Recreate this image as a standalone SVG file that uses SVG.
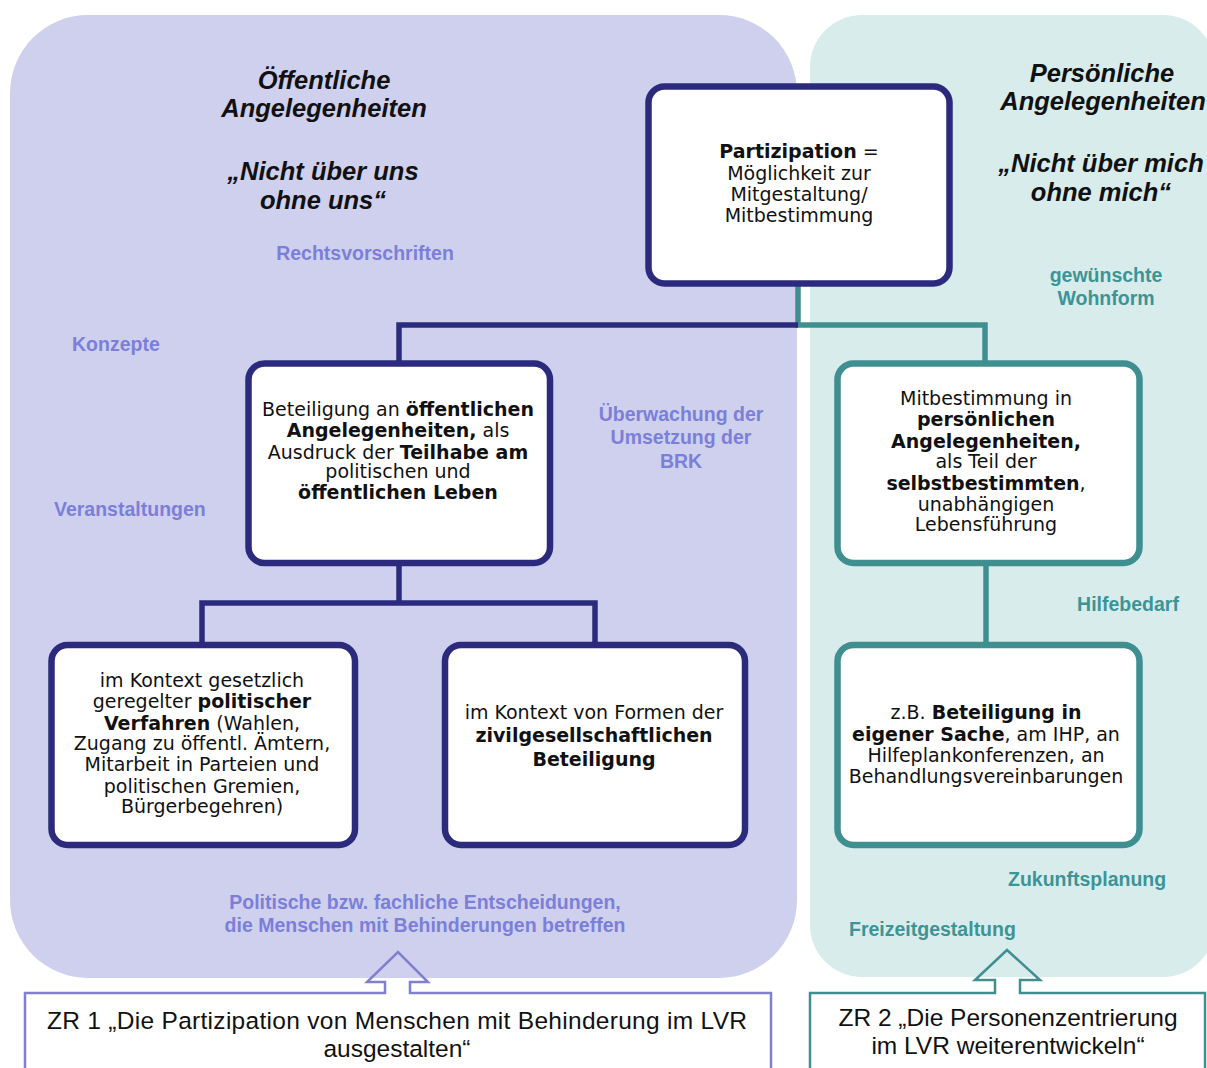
<svg xmlns="http://www.w3.org/2000/svg" width="1207" height="1068" viewBox="0 0 1207 1068">
<style>
.box{fill:#ffffff;stroke-width:6.5}
.navy{stroke:#2b2a7c}
.teal{stroke:#3f8f91}
.t{font-family:"DejaVu Sans",Verdana,sans-serif;font-size:19px;fill:#111;text-anchor:middle}
.b{font-weight:bold}
.hd{font-family:"Liberation Sans",Arial,sans-serif;font-size:25.5px;font-weight:bold;font-style:italic;fill:#111;text-anchor:middle}
.lp{font-family:"Liberation Sans",Arial,sans-serif;font-size:19.5px;font-weight:bold;fill:#7b7fd9}
.lt{font-family:"Liberation Sans",Arial,sans-serif;font-size:19.5px;font-weight:bold;fill:#3d9496}
.zr{font-family:"Liberation Sans",Arial,sans-serif;font-size:24.5px;fill:#111;text-anchor:middle}
.conn{fill:none;stroke-width:5.5;stroke-linejoin:miter}
</style>
<rect width="1207" height="1068" fill="#ffffff"/>
<g id="panel-public">
<rect x="10" y="15" width="787" height="963" rx="78" fill="#cfd0ee"/>
<text class="hd" x="324" y="89">Öffentliche</text>
<text class="hd" x="324" y="117">Angelegenheiten</text>
<text class="hd" x="323" y="180">„Nicht über uns</text>
<text class="hd" x="323" y="209">ohne uns“</text>
<text class="lp" x="365" y="260" text-anchor="middle">Rechtsvorschriften</text>
<text class="lp" x="72" y="351">Konzepte</text>
<text class="lp" x="681" y="421" text-anchor="middle">Überwachung der</text>
<text class="lp" x="681" y="444" text-anchor="middle">Umsetzung der</text>
<text class="lp" x="681" y="468" text-anchor="middle">BRK</text>
<text class="lp" x="54" y="516">Veranstaltungen</text>
<text class="lp" x="425" y="909" text-anchor="middle">Politische bzw. fachliche Entscheidungen,</text>
<text class="lp" x="425" y="932" text-anchor="middle">die Menschen mit Behinderungen betreffen</text>
</g>
<g id="panel-personal">
<rect x="810" y="15" width="405" height="962" rx="52" fill="#d8ecec"/>
<text class="hd" x="1102" y="82">Persönliche</text>
<text class="hd" x="1103" y="110">Angelegenheiten</text>
<text class="hd" x="1101" y="172">„Nicht über mich</text>
<text class="hd" x="1101" y="201">ohne mich“</text>
<text class="lt" x="1106" y="282" text-anchor="middle">gewünschte</text>
<text class="lt" x="1106" y="305" text-anchor="middle">Wohnform</text>
<text class="lt" x="1128" y="611" text-anchor="middle">Hilfebedarf</text>
<text class="lt" x="1008" y="886">Zukunftsplanung</text>
<text class="lt" x="849" y="936">Freizeitgestaltung</text>
</g>
<g id="connectors">
<path class="conn teal" d="M798 285 V325 H985 V365"/>
<path class="conn navy" d="M798 325 H399 V365"/>
<path class="conn navy" d="M399 562 V603 H202 V646 M399 603 H595 V646"/>
<path class="conn teal" d="M986 562 V646"/>
</g>
<g id="node-partizipation">
<rect class="box navy" x="648.5" y="86.5" width="301" height="197" rx="16"/>
<text class="t" x="799" y="158"><tspan class="b">Partizipation</tspan> =</text>
<text class="t" x="799" y="180">Möglichkeit zur</text>
<text class="t" x="799" y="201">Mitgestaltung/</text>
<text class="t" x="799" y="222">Mitbestimmung</text>
</g>
<g id="node-oeffentlich">
<rect class="box navy" x="248.5" y="363.5" width="301.5" height="199.5" rx="16"/>
<text class="t" x="398" y="416">Beteiligung an <tspan class="b">öffentlichen</tspan></text>
<text class="t" x="398" y="437"><tspan class="b">Angelegenheiten,</tspan> als</text>
<text class="t" x="398" y="459">Ausdruck der <tspan class="b">Teilhabe am</tspan></text>
<text class="t" x="398" y="478">politischen und</text>
<text class="t" x="398" y="499"><tspan class="b">öffentlichen Leben</tspan></text>
</g>
<g id="node-persoenlich">
<rect class="box teal" x="837.5" y="363.5" width="302" height="199.5" rx="16"/>
<text class="t" x="986" y="405">Mitbestimmung in</text>
<text class="t" x="986" y="426"><tspan class="b">persönlichen</tspan></text>
<text class="t" x="986" y="448"><tspan class="b">Angelegenheiten,</tspan></text>
<text class="t" x="986" y="468">als Teil der</text>
<text class="t" x="986" y="490"><tspan class="b">selbstbestimmten</tspan>,</text>
<text class="t" x="986" y="511">unabhängigen</text>
<text class="t" x="986" y="531">Lebensführung</text>
</g>
<g id="node-politisch">
<rect class="box navy" x="51.5" y="645" width="303.5" height="200" rx="16"/>
<text class="t" x="202" y="687">im Kontext gesetzlich</text>
<text class="t" x="202" y="708">geregelter <tspan class="b">politischer</tspan></text>
<text class="t" x="202" y="730"><tspan class="b">Verfahren</tspan> (Wahlen,</text>
<text class="t" x="202" y="750">Zugang zu öffentl. Ämtern,</text>
<text class="t" x="202" y="771">Mitarbeit in Parteien und</text>
<text class="t" x="202" y="793">politischen Gremien,</text>
<text class="t" x="202" y="813">Bürgerbegehren)</text>
</g>
<g id="node-zivil">
<rect class="box navy" x="445" y="645" width="300" height="200" rx="16"/>
<text class="t" x="594" y="719">im Kontext von Formen der</text>
<text class="t" x="594" y="742"><tspan class="b">zivilgesellschaftlichen</tspan></text>
<text class="t" x="594" y="766"><tspan class="b">Beteiligung</tspan></text>
</g>
<g id="node-eigene-sache">
<rect class="box teal" x="837.5" y="645" width="302" height="200" rx="16"/>
<text class="t" x="986" y="719">z.B. <tspan class="b">Beteiligung  in</tspan></text>
<text class="t" x="986" y="741"><tspan class="b">eigener Sache</tspan>, am IHP, an</text>
<text class="t" x="986" y="762">Hilfeplankonferenzen, an</text>
<text class="t" x="986" y="783">Behandlungsvereinbarungen</text>
</g>
<g id="node-zr1">
<path d="M25 1070 V993 H385 V982 H367 L398 952 L428 982 H410 V993 H771 V1070" fill="none" stroke="#8080d0" stroke-width="2.5"/>
<text class="zr" x="397" y="1029" textLength="700" lengthAdjust="spacing">ZR 1 „Die Partizipation von Menschen mit Behinderung im LVR</text>
<text class="zr" x="397" y="1057">ausgestalten“</text>
</g>
<g id="node-zr2">
<path d="M810 1070 V993 H995 V980 H975 L1007 950 L1040 980 H1020 V993 H1205 V1070" fill="none" stroke="#3f8f91" stroke-width="2.5"/>
<text class="zr" x="1008" y="1026">ZR 2 „Die Personenzentrierung</text>
<text class="zr" x="1008" y="1054">im LVR weiterentwickeln“</text>
</g>
</svg>
